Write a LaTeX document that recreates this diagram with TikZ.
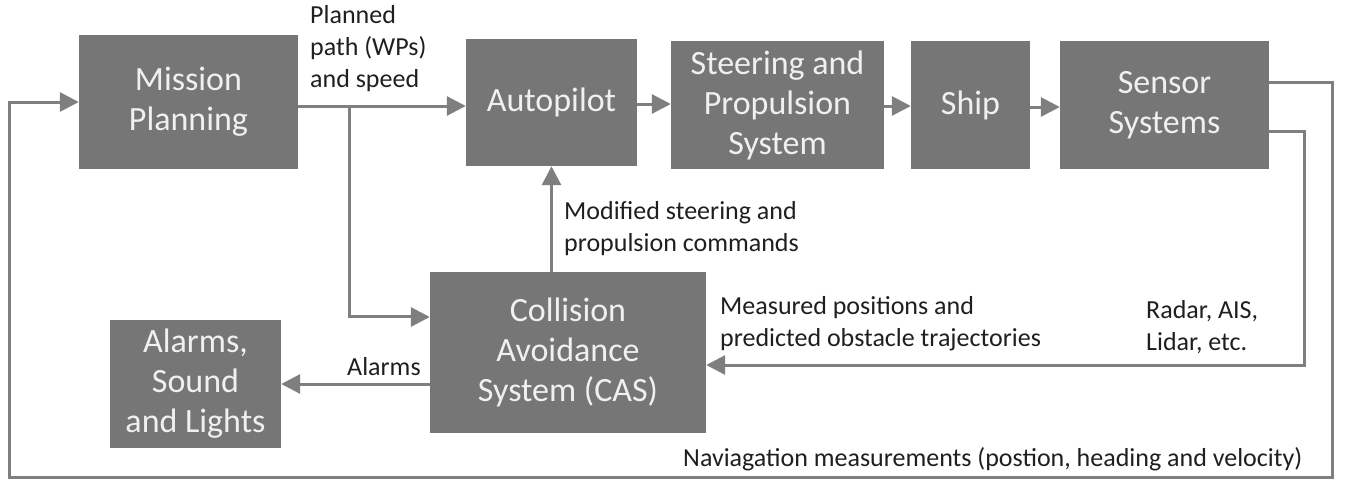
\documentclass[tikz,border=0pt]{standalone}
\usepackage{fontspec}
\setmainfont{Carlito}
\usetikzlibrary{arrows.meta,calc}
\definecolor{boxgray}{HTML}{767676}
\definecolor{linegray}{HTML}{7F7F7F}
\begin{document}
\begin{tikzpicture}[x=1pt,y=-1pt,
 box/.style={fill=boxgray, draw=none, text=white!94!black, align=center, inner sep=0pt, font=\fontsize{34}{40}\selectfont},
 lbl/.style={text=black!88, align=left, inner sep=0pt, anchor=north west, font=\fontsize{26}{32}\selectfont},
 arr/.style={draw=linegray, line width=3pt, -{Triangle[length=19pt,width=19pt]}},
 ln/.style={draw=linegray, line width=3pt}]
\useasboundingbox (0,0) rectangle (1353,483);
% boxes
\node[box, minimum width=219pt, minimum height=134pt] (mp) at (188.5,102) {Mission\\Planning};
\node[box, minimum width=171pt, minimum height=127pt] (ap) at (551.5,102.5) {Autopilot};
\node[box, minimum width=213pt, minimum height=128pt] (sp) at (777.5,105) {Steering and\\Propulsion\\System};
\node[box, minimum width=119pt, minimum height=128pt] (ship) at (970.5,105) {Ship};
\node[box, minimum width=209pt, minimum height=128pt] (sens) at (1164.5,105) {Sensor\\Systems};
\node[box, minimum width=276pt, minimum height=161pt] (cas) at (568,352.5) {Collision\\Avoidance\\System (CAS)};
\node[box, minimum width=171pt, minimum height=128pt] (al) at (195.5,384) {Alarms,\\Sound\\and Lights};
% labels
\node[lbl] (lpp) at (310,5) {Planned\\path (WPs)\\and speed};
\node[lbl] (lmod) at (564,201) {Modified steering and\\propulsion commands};
\node[lbl] (lmeas) at (720,296) {Measured positions and\\predicted obstacle trajectories};
\node[lbl] (lrad) at (1146,300) {Radar, AIS,\\Lidar, etc.};
\node[lbl] (lal) at (347,357) {Alarms};
\node[lbl] (lnav) at (683,447) {Naviagation measurements (postion, heading and velocity)};
% coordinates
\coordinate (br) at (349,106);
\coordinate (s1) at (1332,82);
\coordinate (s2) at (1304,131);
\coordinate (bl) at (9,477);
% connectors
\draw[arr] (mp.east |- br) -- (ap.west |- br);
\draw[arr] (br) |- ($(cas.north west)!0.28!(cas.south west)$);
\draw[arr] (ap.east |- 0,104) -- (sp.west |- 0,104);
\draw[arr] (sp.east |- 0,106) -- (ship.west |- 0,106);
\draw[arr] (ship.east |- 0,107) -- (sens.west |- 0,107);
\draw[arr] (cas.north -| ap.south) -- (ap.south);
\draw[arr] (cas.west |- al.east) -- (al.east);
\draw[arr] (sens.east |- s2) -- (s2) -- (s2 |- 0,365) -- (cas.east |- 0,365);
\draw[arr] (sens.east |- s1) -- (s1) -- (s1 |- bl) -- (bl) -- (bl |- mp.west) -- (mp.west);
\end{tikzpicture}
\end{document}
